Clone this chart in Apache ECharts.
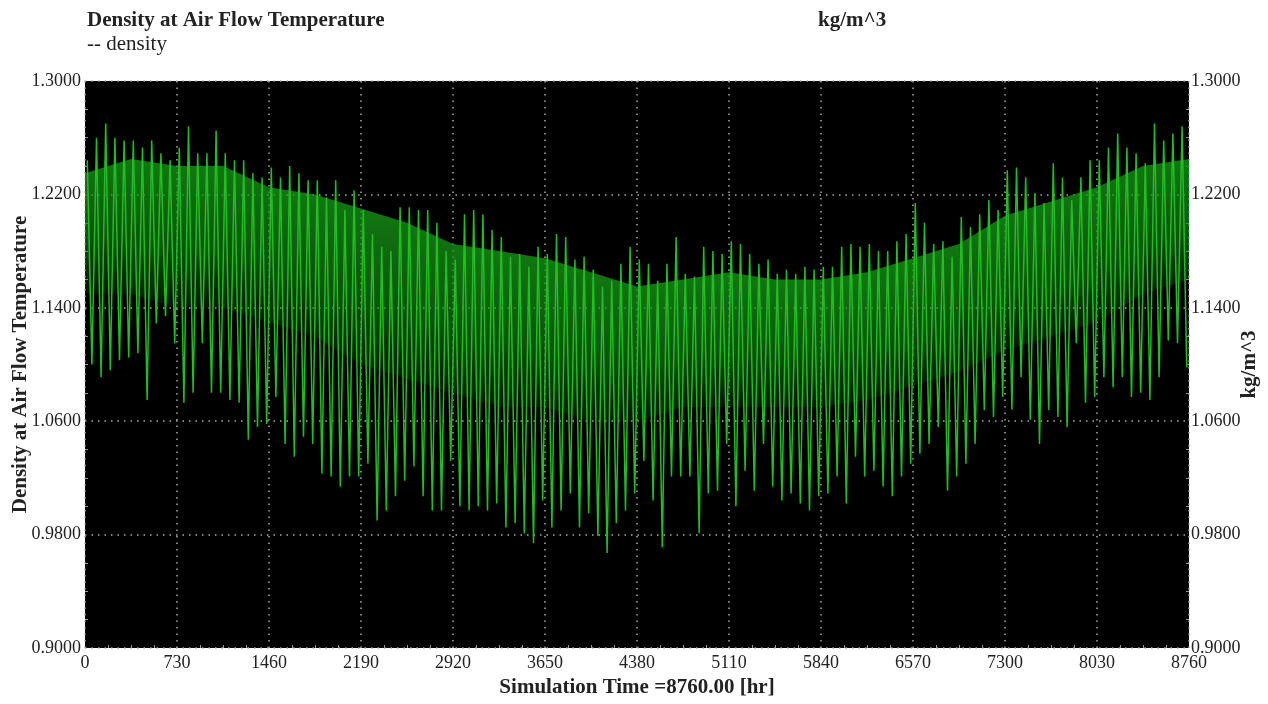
<!DOCTYPE html>
<html>
<head>
<meta charset="utf-8">
<script src="https://cdn.jsdelivr.net/npm/echarts@6/dist/echarts.min.js"></script>
<style>
html,body{margin:0;padding:0;background:#fff;}
#chart{width:1268px;height:704px;}
</style>
</head>
<body>
<div id="chart"></div>
<script>
// Sampling step (hours) of the read-off envelope values
const stepHours = 73;
// Upper spike tips per 73-hour segment (kg/m^3)
const highs = [
  1.244,1.260,1.270,1.260,1.258,1.258,1.253,1.258,1.249,1.244,
  1.253,1.268,1.249,1.249,1.265,1.249,1.244,1.244,1.235,1.232,
  1.239,1.232,1.240,1.235,1.230,1.230,1.218,1.230,1.209,1.223,
  1.209,1.192,1.183,1.180,1.211,1.211,1.209,1.209,1.200,1.180,
  1.174,1.206,1.209,1.206,1.195,1.190,1.176,1.178,1.169,1.183,
  1.178,1.192,1.190,1.174,1.176,1.167,1.155,1.159,1.171,1.183,
  1.174,1.171,1.159,1.171,1.190,1.164,1.162,1.183,1.180,1.178,
  1.187,1.185,1.178,1.171,1.174,1.164,1.167,1.164,1.169,1.167,
  1.169,1.169,1.183,1.185,1.183,1.185,1.180,1.180,1.187,1.192,
  1.214,1.200,1.185,1.187,1.176,1.204,1.197,1.206,1.216,1.209,
  1.237,1.239,1.232,1.221,1.214,1.242,1.232,1.216,1.232,1.244,
  1.244,1.253,1.263,1.253,1.249,1.242,1.270,1.258,1.263,1.268
];
// Lower spike tips per 73-hour segment (kg/m^3)
const lows = [
  1.100,1.091,1.096,1.103,1.105,1.108,1.075,1.129,1.134,1.115,
  1.073,1.080,1.115,1.080,1.080,1.075,1.073,1.047,1.056,1.058,
  1.077,1.044,1.035,1.049,1.044,1.023,1.021,1.014,1.021,1.021,
  1.030,0.990,0.997,1.007,1.018,1.028,1.007,0.997,0.997,1.032,
  1.000,0.997,1.000,0.997,1.002,0.985,0.988,0.981,0.974,1.004,
  0.985,0.997,1.009,0.985,0.995,0.979,0.967,0.988,0.997,1.009,
  1.032,1.004,0.971,1.021,1.021,1.021,0.981,1.009,1.011,1.044,
  1.000,1.025,1.011,1.044,1.014,1.004,1.009,1.002,0.997,1.007,
  1.009,1.021,1.002,1.035,1.021,1.025,1.014,1.007,1.021,1.030,
  1.037,1.044,1.056,1.011,1.021,1.030,1.044,1.068,1.063,1.077,
  1.068,1.091,1.061,1.044,1.068,1.063,1.056,1.115,1.073,1.077,
  1.091,1.084,1.091,1.077,1.080,1.075,1.091,1.117,1.115,1.098
];
// Dense (densely overlapping daily cycles) band, read every 365 hours
const bandHours = [0,365,730,1095,1460,1825,2190,2555,2920,3285,3650,4015,4380,
                   4745,5110,5475,5840,6205,6570,6935,7300,7665,8030,8395,8760];
const bandTop = [1.235,1.245,1.240,1.240,1.225,1.220,1.210,1.200,1.185,1.180,1.175,1.165,1.155,
                 1.160,1.165,1.160,1.160,1.165,1.175,1.185,1.205,1.215,1.225,1.240,1.245];
const bandBottom = [1.150,1.150,1.140,1.140,1.130,1.120,1.100,1.090,1.080,1.070,1.070,1.060,1.060,
                    1.070,1.070,1.070,1.070,1.075,1.085,1.095,1.110,1.120,1.130,1.150,1.160];
// Axis ticks
const xTicks = [0,730,1460,2190,2920,3650,4380,5110,5840,6570,7300,8030,8760];
const yTicks = [0.90,0.98,1.06,1.14,1.22,1.30];

const seriesData = [];
for (let i = 0; i < highs.length; i++) {
  seriesData.push([i * stepHours + stepHours * 0.25, highs[i]]);
  seriesData.push([i * stepHours + stepHours * 0.75, lows[i]]);
}
const bandData = [];
for (let i = 0; i < bandHours.length - 1; i++) bandData.push([bandHours[i], bandTop[i], i]);

const font = '"Liberation Serif","Times New Roman",serif';
const txt = '#222';

const chart = echarts.init(document.getElementById('chart'), null, {renderer: 'canvas'});
const yAxisCommon = {
  type: 'value', min: yTicks[0], max: yTicks[yTicks.length - 1], interval: 0.08,
  axisLine: {show: false}, axisTick: {show: false, inside: true},
  minorTick: {show: true, splitNumber: 4, length: 3, lineStyle: {color: '#999'}},
  axisLabel: {fontFamily: font, fontSize: 18, color: txt, formatter: v => v.toFixed(4)},
  nameLocation: 'middle', nameRotate: 90, nameMoveOverlap: false,
  nameTextStyle: {fontFamily: font, fontSize: 21, fontWeight: 'bold', color: txt}
};
chart.setOption({
  animation: false,
  backgroundColor: '#fff',
  title: [
    {text: 'Density at Air Flow Temperature', left: 87, top: 10, padding: 0,
     textStyle: {fontFamily: font, fontSize: 21, fontWeight: 'bold', color: txt}},
    {text: '-- density', left: 87, top: 34, padding: 0,
     textStyle: {fontFamily: font, fontSize: 21, fontWeight: 'normal', color: txt}},
    {text: 'kg/m^3', left: 818, top: 10, padding: 0,
     textStyle: {fontFamily: font, fontSize: 21, fontWeight: 'bold', color: txt}}
  ],
  grid: {left: 85, right: 79, top: 81, bottom: 56, show: true, containLabel: false,
         outerBoundsMode: 'none',
         backgroundColor: '#000', borderWidth: 0},
  xAxis: {
    type: 'value', min: 0, max: 8760, interval: 730,
    axisLine: {show: false}, axisTick: {show: false, inside: true},
    minorTick: {show: true, splitNumber: 4, length: 3, lineStyle: {color: '#999'}},
    axisLabel: {fontFamily: font, fontSize: 18, color: txt, margin: 6, formatter: v => String(v)},
    splitLine: {show: true, lineStyle: {color: '#aaa', width: 1.5, type: [1.5, 5]}},
    name: 'Simulation Time =8760.00 [hr]', nameLocation: 'middle', nameGap: 29,
    nameMoveOverlap: false,
    nameTextStyle: {fontFamily: font, fontSize: 21, fontWeight: 'bold', color: txt}
  },
  yAxis: [
    Object.assign({}, yAxisCommon, {
      position: 'left', name: 'Density at Air Flow Temperature', nameGap: 54,
      axisLabel: Object.assign({}, yAxisCommon.axisLabel, {margin: 4}),
      splitLine: {show: true, lineStyle: {color: '#aaa', width: 1.5, type: [1.5, 5]}}
    }),
    Object.assign({}, yAxisCommon, {
      position: 'right', name: 'kg/m^3', nameGap: 50,
      axisLabel: Object.assign({}, yAxisCommon.axisLabel, {margin: 2}),
      splitLine: {show: false}
    })
  ],
  series: [
    {
      type: 'custom', coordinateSystem: 'cartesian2d', yAxisIndex: 0, z: 2,
      data: bandData,
      renderItem: function (params, api) {
        const i = api.value(2);
        const p0 = api.coord([bandHours[i], bandTop[i]]);
        const p1 = api.coord([bandHours[i + 1], bandTop[i + 1]]);
        const p2 = api.coord([bandHours[i + 1], bandBottom[i + 1]]);
        const p3 = api.coord([bandHours[i], bandBottom[i]]);
        return {type: 'polygon', shape: {points: [p0, p1, p2, p3]},
                style: {fill: new echarts.graphic.LinearGradient(0, 0, 0, 1, [
                  {offset: 0, color: 'rgba(22,150,22,0.80)'},
                  {offset: 0.6, color: 'rgba(22,150,22,0.55)'},
                  {offset: 1, color: 'rgba(22,150,22,0.15)'}
                ])}};
      },
      silent: true
    },
    {
      type: 'line', data: seriesData, yAxisIndex: 0, symbol: 'none', sampling: false,
      lineStyle: {color: '#1fbf1f', width: 1.5}, z: 3
    }
  ]
});
</script>
</body>
</html>
